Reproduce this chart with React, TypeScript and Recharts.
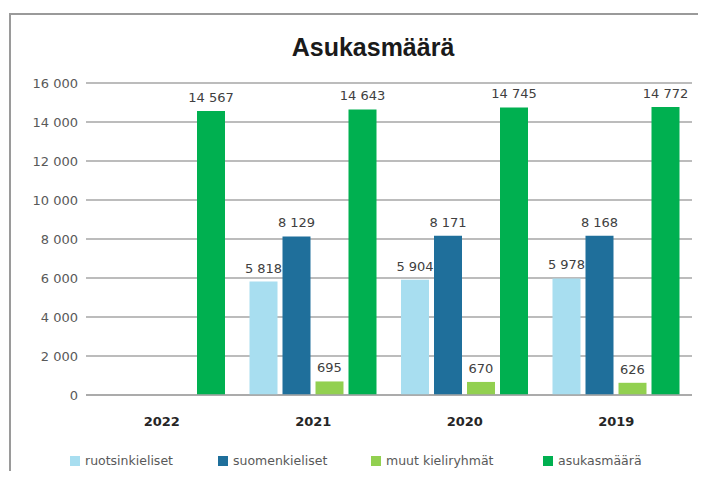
import { BarChart, Bar, XAxis, YAxis, CartesianGrid, LabelList } from 'recharts';

const years = ['2022', '2021', '2020', '2019'];
const ruotsinkieliset = [null, 5818, 5904, 5978];
const suomenkieliset = [null, 8129, 8171, 8168];
const muutKieliryhmat = [null, 695, 670, 626];
const asukasmaara = [14567, 14643, 14745, 14772];
const yTicks = [0, 2000, 4000, 6000, 8000, 10000, 12000, 14000, 16000];

const series = [
  { key: 'ruotsinkieliset', name: 'ruotsinkieliset', color: '#a8def0' },
  { key: 'suomenkieliset', name: 'suomenkieliset', color: '#1f6f9b' },
  { key: 'muut', name: 'muut kieliryhmät', color: '#92d050' },
  { key: 'asukasmaara', name: 'asukasmäärä', color: '#00b050' },
];

const data = years.map((year, i) => ({
  year,
  ruotsinkieliset: ruotsinkieliset[i],
  suomenkieliset: suomenkieliset[i],
  muut: muutKieliryhmat[i],
  asukasmaara: asukasmaara[i],
}));

const fmt = (v: any) => (v == null ? '' : String(v).replace(/\B(?=(\d{3})+(?!\d))/g, ' '));

const font = '"DejaVu Sans", sans-serif';
const legendX = [70, 218, 371, 543];

function ValueLabel(props: any) {
  const { x, y, width, value } = props;
  if (value == null) return null;
  return (
    <text x={x + width / 2} y={y - 9} textAnchor="middle" fill="#404040" fontSize={13} fontFamily={font}>
      {fmt(value)}
    </text>
  );
}

export default function App() {
  return (
    <div style={{ position: 'relative', width: 706, height: 479, margin: -8, overflow: 'hidden', background: '#fff', fontFamily: font }}>
      <div style={{ position: 'absolute', left: 9, top: 13, width: 740, height: 520, border: '2px solid #9a9a9a', boxSizing: 'border-box' }} />
      <div style={{ position: 'absolute', left: 0, width: 746, top: 33, textAlign: 'center', fontSize: 25, fontWeight: 'bold', fontFamily: '"Liberation Sans Narrow", "Liberation Sans", sans-serif', color: '#1a1a1a' }}>
        Asukasmäärä
      </div>
      <div style={{ position: 'absolute', left: 0, top: 0 }}>
        <BarChart width={706} height={479} data={data} margin={{ top: 83, right: 14, left: 10, bottom: 44 }} barCategoryGap={12} barGap={5}>
          <CartesianGrid vertical={false} stroke="#a6a6a6" strokeWidth={1.5} />
          <XAxis dataKey="year" axisLine={{ stroke: '#a6a6a6', strokeWidth: 1.5 }} tickLine={false}
            tick={{ fill: '#262626', fontSize: 13, fontWeight: 'bold', fontFamily: font }} dy={14} height={40} />
          <YAxis domain={[0, 16000]} ticks={yTicks} tickFormatter={fmt} axisLine={false} tickLine={false} width={76}
            tick={{ fill: '#595959', fontSize: 13, fontFamily: font }} interval={0} />
          {series.map(s => (
            <Bar key={s.key} dataKey={s.key} name={s.name} fill={s.color} isAnimationActive={false}>
              <LabelList dataKey={s.key} content={<ValueLabel />} />
            </Bar>
          ))}
        </BarChart>
      </div>
      {series.map((s, i) => (
        <div key={s.key} style={{ position: 'absolute', left: legendX[i], top: 453, display: 'flex', alignItems: 'center', fontSize: 12.5, color: '#595959' }}>
          <span style={{ display: 'inline-block', width: 10, height: 10, background: s.color, marginRight: 5 }} />
          {s.name}
        </div>
      ))}
    </div>
  );
}
